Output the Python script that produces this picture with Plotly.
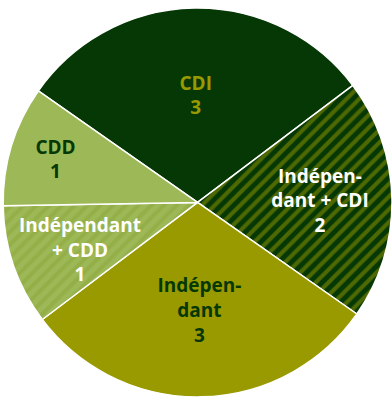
import plotly.graph_objects as go

labels = ["CDI", "Indépendant + CDI", "Indépendant", "Indépendant + CDD", "CDD"]
values = [3, 2, 3, 1, 1]
texts = ["CDI<br>3", "Indépen-<br>dant + CDI<br>2", "Indépen-<br>dant<br>3", "Indépendant<br>+ CDD<br>1", "CDD<br>1"]
colors = ["#053805", "#053805", "#999900", "#9cb857", "#9cb857"]
pattern_shapes = ["", "/", "", "/", ""]
pattern_fg = ["#053805", "#999900", "#999900", "#8ea53a", "#9cb857"]
text_colors = ["#999900", "#ffffff", "#053805", "#ffffff", "#053805"]
# slice whose label overflows its slice in the original and is drawn as a free label
overflow_idx = 3

FONT = "Open Sans"
FSIZE = 19

fig = go.Figure(go.Pie(
    labels=labels,
    values=values,
    text=texts,
    textinfo="text",
    textposition=["none" if i == overflow_idx else "inside" for i in range(len(values))],
    insidetextorientation="horizontal",
    sort=False,
    direction="clockwise",
    rotation=-55,
    marker=dict(
        colors=colors,
        line=dict(color="#ffffff", width=1.5),
        pattern=dict(shape=pattern_shapes, fgcolor=pattern_fg, bgcolor=colors,
                     size=9, solidity=0.45, fillmode="overlay"),
    ),
    insidetextfont=dict(family=FONT, size=FSIZE, color=text_colors, weight="bold"),
    domain=dict(x=[0.008, 1.0], y=[0.0, 0.98]),
    showlegend=False,
    hoverinfo="label+value",
))

fig.add_annotation(
    text=texts[overflow_idx],
    x=80 / 392, y=1 - 250 / 397, xref="paper", yref="paper",
    xanchor="center", yanchor="middle", showarrow=False, align="center",
    font=dict(family=FONT, size=FSIZE, color=text_colors[overflow_idx], weight="bold"),
)

fig.update_layout(
    width=392, height=397,
    margin=dict(l=0, r=0, t=0, b=0),
    paper_bgcolor="white",
    plot_bgcolor="white",
    uniformtext=dict(minsize=FSIZE, mode="show"),
)

fig.write_html("out.html")
